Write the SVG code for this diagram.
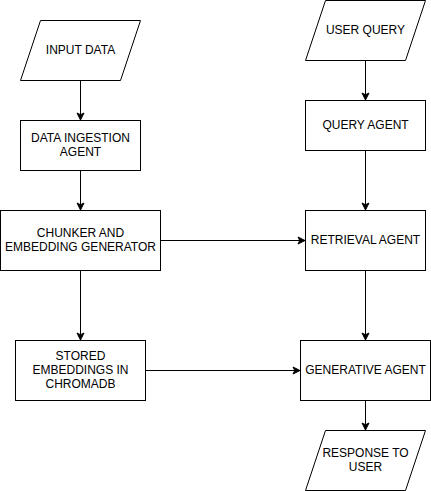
<svg xmlns="http://www.w3.org/2000/svg" width="431" height="491" viewBox="0 0 431 491">
<style>
.n{fill:#fff;stroke:#000;stroke-width:1}
.t{font-family:"Liberation Sans",Arial,sans-serif;font-size:12px;fill:#000;text-anchor:middle}
.e{fill:none;stroke:#000;stroke-width:1;marker-end:url(#a)}
</style>
<defs>
<marker id="a" markerUnits="userSpaceOnUse" markerWidth="10" markerHeight="10" viewBox="-8 -5 10 10" refX="0" refY="0" orient="auto">
<path d="M-7,-3.5 L0,0 L-7,3.5 L-5.25,0 Z" fill="#000" stroke="#000" stroke-width="1"/>
</marker>
</defs>
<g id="connectors">
<path class="e" d="M80.5,80.5 V120"/>
<path class="e" d="M80.5,170.5 V210"/>
<path class="e" d="M80.5,270.5 V340"/>
<path class="e" d="M160.5,240.5 H305"/>
<path class="e" d="M365.5,60.5 V100"/>
<path class="e" d="M365.5,150.5 V210"/>
<path class="e" d="M365.5,270.5 V340"/>
<path class="e" d="M145.5,370.5 H300"/>
<path class="e" d="M365.5,400.5 V430"/>
</g>
<g id="input-data">
<polygon class="n" points="40.5,20.5 140.5,20.5 120.5,80.5 20.5,80.5"/>
<text class="t" x="80.5" y="54.3">INPUT DATA</text>
</g>
<g id="data-ingestion-agent">
<rect class="n" x="20.5" y="120.5" width="120" height="50"/>
<text class="t" x="80.5" y="142.3">DATA INGESTION</text>
<text class="t" x="80.5" y="156.3">AGENT</text>
</g>
<g id="chunker">
<rect class="n" x="0.5" y="210.5" width="160" height="60"/>
<text class="t" x="80.5" y="237.3">CHUNKER AND</text>
<text class="t" x="80.5" y="251.3">EMBEDDING GENERATOR</text>
</g>
<g id="stored-embeddings">
<rect class="n" x="15.5" y="340.5" width="130" height="60"/>
<text class="t" x="80.5" y="360.3">STORED</text>
<text class="t" x="80.5" y="374.3">EMBEDDINGS IN</text>
<text class="t" x="80.5" y="388.3">CHROMADB</text>
</g>
<g id="user-query">
<polygon class="n" points="325.5,0.5 425.5,0.5 405.5,60.5 305.5,60.5"/>
<text class="t" x="365.5" y="34.3">USER QUERY</text>
</g>
<g id="query-agent">
<rect class="n" x="305.5" y="100.5" width="120" height="50"/>
<text class="t" x="365.5" y="129.3">QUERY AGENT</text>
</g>
<g id="retrieval-agent">
<rect class="n" x="305.5" y="210.5" width="120" height="60"/>
<text class="t" x="365.5" y="244.3">RETRIEVAL AGENT</text>
</g>
<g id="generative-agent">
<rect class="n" x="300.5" y="340.5" width="130" height="60"/>
<text class="t" x="365.5" y="374.3">GENERATIVE AGENT</text>
</g>
<g id="response-to-user">
<polygon class="n" points="325.5,430.5 425.5,430.5 405.5,490.5 305.5,490.5"/>
<text class="t" x="365.5" y="457.3">RESPONSE TO</text>
<text class="t" x="365.5" y="471.3">USER</text>
</g>
</svg>
